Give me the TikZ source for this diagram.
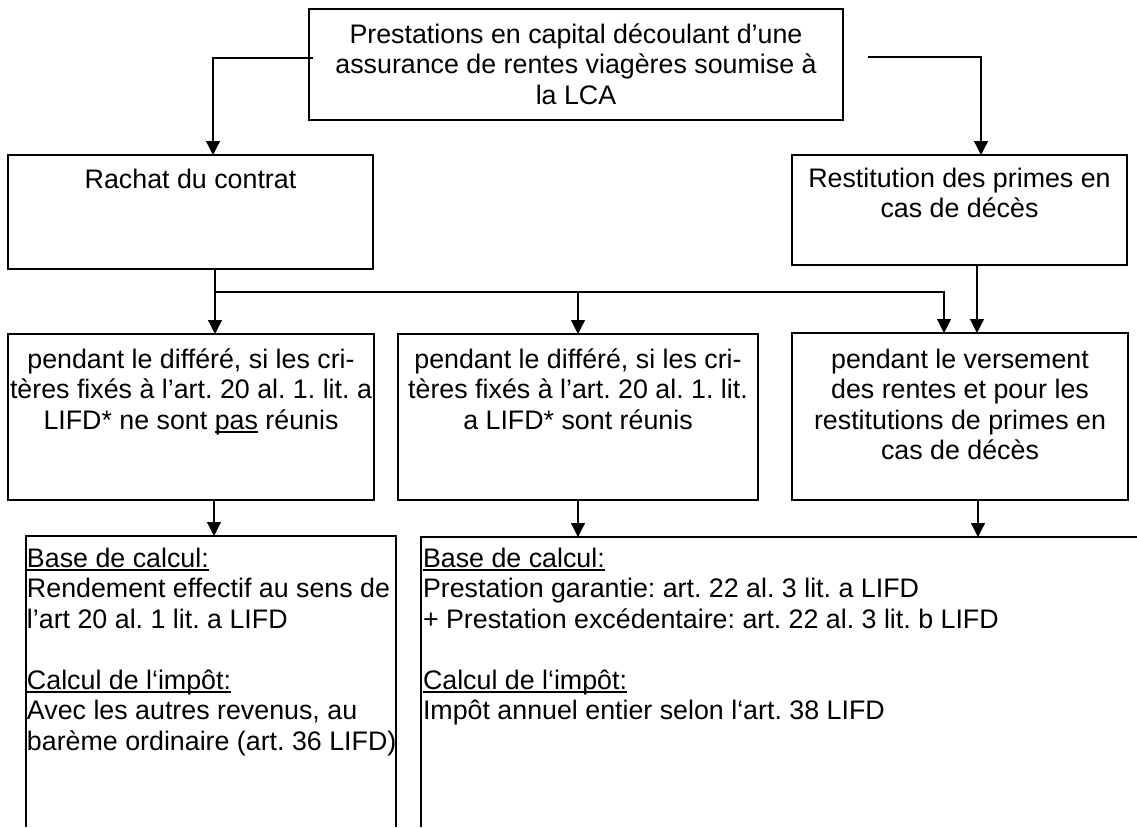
\documentclass[tikz,border=0pt]{standalone}
\usepackage{fontspec}
\setmainfont{Liberation Sans}
\usetikzlibrary{arrows.meta,calc}
\frenchspacing
\newcommand\undl[1]{\leavevmode\setbox0\hbox{#1}\rlap{\rule[-3.5pt]{\wd0}{1.5pt}}\box0\relax}
\tikzset{
  box/.style={draw, line width=1.8pt, inner sep=0pt, outer sep=0pt, anchor=north west},
  txt/.style={inner sep=0pt, outer sep=0pt},
  conn/.style={line width=1.2pt, -{Triangle[length=14pt,width=14pt]}},
  openbox/.style={line width=1.8pt},
}
\begin{document}
\begin{tikzpicture}[x=1pt,y=1pt,font=\frenchspacing\fontsize{26.8}{30.5}\selectfont]
\fill[white] (0,0) rectangle (1137,-827);
\useasboundingbox (0,0) rectangle (1137,-827);

% boxes
\node[box, minimum width=534pt, minimum height=111pt] (top) at (309,-9) {};
\node[txt, anchor=north, align=center] (toptxt) at (top.north)
  {\rule{0pt}{34pt}Prestations en capital découlant d’une\\assurance de rentes viagères soumise à\\la LCA};

\node[box, minimum width=365pt, minimum height=114pt] (rachat) at (8,-155) {};
\node[txt, anchor=north, align=center] (rachattxt) at (rachat.north)
  {\rule{0pt}{33pt}Rachat du contrat};

\node[box, minimum width=335pt, minimum height=110pt] (restit) at (792,-155) {};
\node[txt, anchor=north, align=center] (restittxt) at (restit.north)
  {\rule{0pt}{32pt}Restitution des primes en\\cas de décès};

\node[box, minimum width=366pt, minimum height=166pt] (A) at (8,-334) {};
\node[txt, anchor=north, align=center] (Atxt) at (A.north)
  {\rule{0pt}{34pt}pendant le différé, si les cri-\\tères fixés à l’art. 20 al. 1. lit. a\\LIFD* ne sont \undl{pas} réunis};

\node[box, minimum width=360pt, minimum height=166pt] (B) at (398,-334) {};
\node[txt, anchor=north, align=center] (Btxt) at (B.north)
  {\rule{0pt}{34pt}pendant le différé, si les cri-\\tères fixés à l’art. 20 al. 1. lit.\\a LIFD* sont réunis};

\node[box, minimum width=336pt, minimum height=167pt] (C) at (792,-333) {};
\node[txt, anchor=north, align=center] (Ctxt) at (C.north)
  {\rule{0pt}{35pt}pendant le versement\\des rentes et pour les\\restitutions de primes en\\cas de décès};

% open bottom boxes
\draw[openbox] (26,-827) -- (26,-536) -- (396,-536) -- (396,-827);
\draw[openbox] (421,-827) -- (421,-537) -- (1137,-537);

\node[txt, anchor=north west, align=left] (b1txt) at (27,-536)
  {\rule{0pt}{31pt}\undl{Base de calcul:}\\Rendement effectif au sens de\\l’art 20 al. 1 lit. a LIFD\\[30.5pt]\undl{Calcul de l‘impôt:}\\Avec les autres revenus, au\\barème ordinaire (art. 36 LIFD)};

\node[txt, anchor=north west, align=left] (b2txt) at (423,-537)
  {\rule{0pt}{30pt}\undl{Base de calcul:}\\Prestation garantie: art. 22 al. 3 lit. a LIFD\\+ Prestation excédentaire: art. 22 al. 3 lit. b LIFD\\[30.5pt]\undl{Calcul de l‘impôt:}\\Impôt annuel entier selon l‘art. 38 LIFD};

% coordinates
\coordinate (b1top) at (214,-536);
\coordinate (b2a) at (578,-537);
\coordinate (b2b) at (978,-537);
\coordinate (j) at ([xshift=24.5pt,yshift=-23pt]rachat.south);

% connectors
\draw[conn] ([yshift=6.5pt,xshift=4pt]top.west) -| ([xshift=22.5pt]rachat.north);
\draw[conn] ([xshift=25pt,yshift=7.5pt]top.east) -| ([xshift=21.5pt]restit.north);
\draw[conn] ([xshift=24.5pt]rachat.south) -- ([xshift=24.5pt]rachat.south |- A.north);
\draw[conn] (j) -| ([xshift=-16pt]C.north);
\draw[conn] (B.north |- j) -- (B.north);
\draw[conn] ([xshift=17.5pt]restit.south) -- ([xshift=17.5pt]restit.south |- C.north);
\draw[conn] (A.south -| b1top) -- (b1top);
\draw[conn] (B.south -| b2a) -- (b2a);
\draw[conn] (C.south -| b2b) -- (b2b);
\end{tikzpicture}
\end{document}
